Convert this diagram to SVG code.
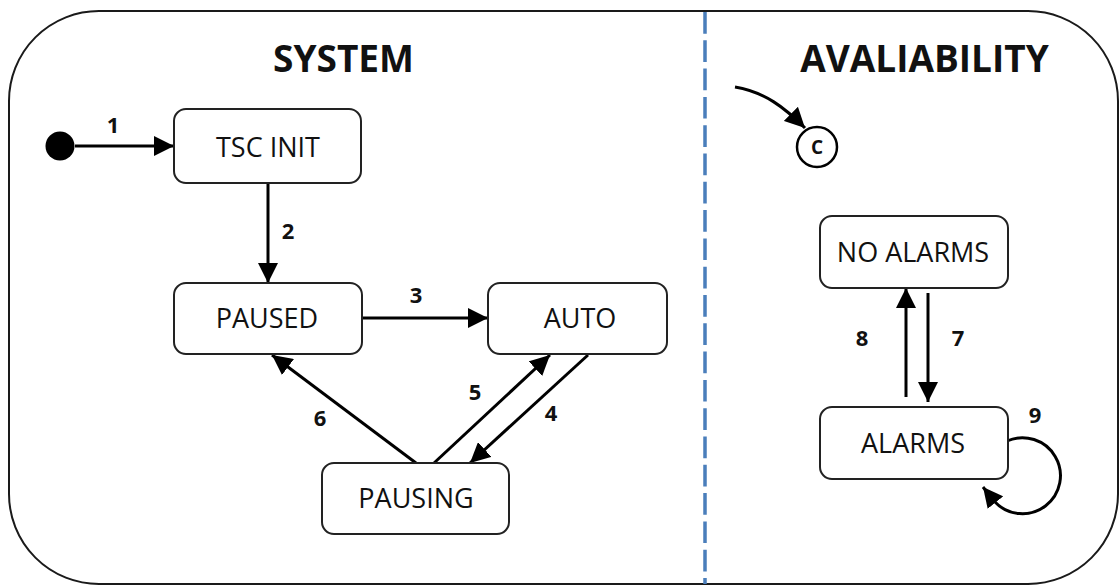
<svg xmlns="http://www.w3.org/2000/svg" width="1120" height="586" viewBox="0 0 1120 586">
<style>
.frame{fill:#fff;stroke:#1a1a1a;stroke-width:2}
.box{fill:#fff;stroke:#222;stroke-width:2}
.lbl{font-family:"Open Sans","Liberation Sans",sans-serif;font-size:27px;fill:#111;text-anchor:middle}
.head{font-family:"Open Sans","Liberation Sans",sans-serif;font-size:37px;font-weight:bold;fill:#111;text-anchor:middle}
.num{font-family:"Open Sans","Liberation Sans",sans-serif;font-size:22px;font-weight:bold;fill:#111;text-anchor:middle}
.cl{font-family:"Open Sans","Liberation Sans",sans-serif;font-size:19px;font-weight:bold;fill:#111;text-anchor:middle}
.edge{fill:none;stroke:#000;stroke-width:3;marker-end:url(#ah)}
.div{stroke:#4a7ebb;stroke-width:3.5;stroke-dasharray:21.7 6.6}
</style>
<defs>
<marker id="ah" markerUnits="userSpaceOnUse" markerWidth="20" markerHeight="20" refX="18" refY="9" orient="auto" viewBox="0 0 18 18">
<path d="M0,0 L18,9 L0,18 z" fill="#000"/>
</marker>
</defs>
<rect class="frame" x="9" y="11" width="1109" height="573" rx="90" ry="90"/>
<line class="div" x1="705" y1="12" x2="705" y2="584"/>
<text class="head" x="343.5" y="72">SYSTEM</text>
<text class="head" x="924.5" y="72">AVALIABILITY</text>
<g id="connectors">
<path class="edge" d="M75,146 L174,146"/>
<path class="edge" d="M268,183 L268,283"/>
<path class="edge" d="M362,318 L488,318"/>
<path class="edge" d="M416,463 L272,355"/>
<path class="edge" d="M434,463 L550,355"/>
<path class="edge" d="M588,355 L470,463"/>
<path class="edge" d="M906,397 L906,288"/>
<path class="edge" d="M928,293 L928,402"/>
<path class="edge" d="M1007,441 A38,38 0 1 1 995,502 L983,487"/>
<path class="edge" d="M735,87 C765,92 785,108 805,128"/>
<text class="num" x="113" y="133">1</text>
<text class="num" x="288" y="239">2</text>
<text class="num" x="416" y="303">3</text>
<text class="num" x="551" y="421">4</text>
<text class="num" x="475" y="400">5</text>
<text class="num" x="320" y="426">6</text>
<text class="num" x="958" y="346">7</text>
<text class="num" x="862" y="346">8</text>
<text class="num" x="1035" y="423">9</text>
</g>
<g id="initial"><circle cx="60" cy="146" r="14.5" fill="#000"/></g>
<g id="tsc-init"><rect class="box" x="174" y="109" width="187" height="74" rx="12"/><text class="lbl" x="268" y="157">TSC INIT</text></g>
<g id="paused"><rect class="box" x="174" y="283" width="188" height="71" rx="12"/><text class="lbl" x="267" y="328">PAUSED</text></g>
<g id="auto"><rect class="box" x="488" y="283" width="179" height="71" rx="12"/><text class="lbl" x="580" y="328">AUTO</text></g>
<g id="pausing"><rect class="box" x="322" y="463" width="187" height="71" rx="12"/><text class="lbl" x="416" y="508">PAUSING</text></g>
<g id="c-point"><circle cx="817" cy="147" r="20" fill="#fff" stroke="#000" stroke-width="2.5"/><text class="cl" x="817" y="154">C</text></g>
<g id="no-alarms"><rect class="box" x="820" y="216" width="188" height="72" rx="12"/><text class="lbl" x="913" y="262">NO ALARMS</text></g>
<g id="alarms"><rect class="box" x="820" y="407" width="188" height="72" rx="12"/><text class="lbl" x="913" y="453">ALARMS</text></g>
</svg>
